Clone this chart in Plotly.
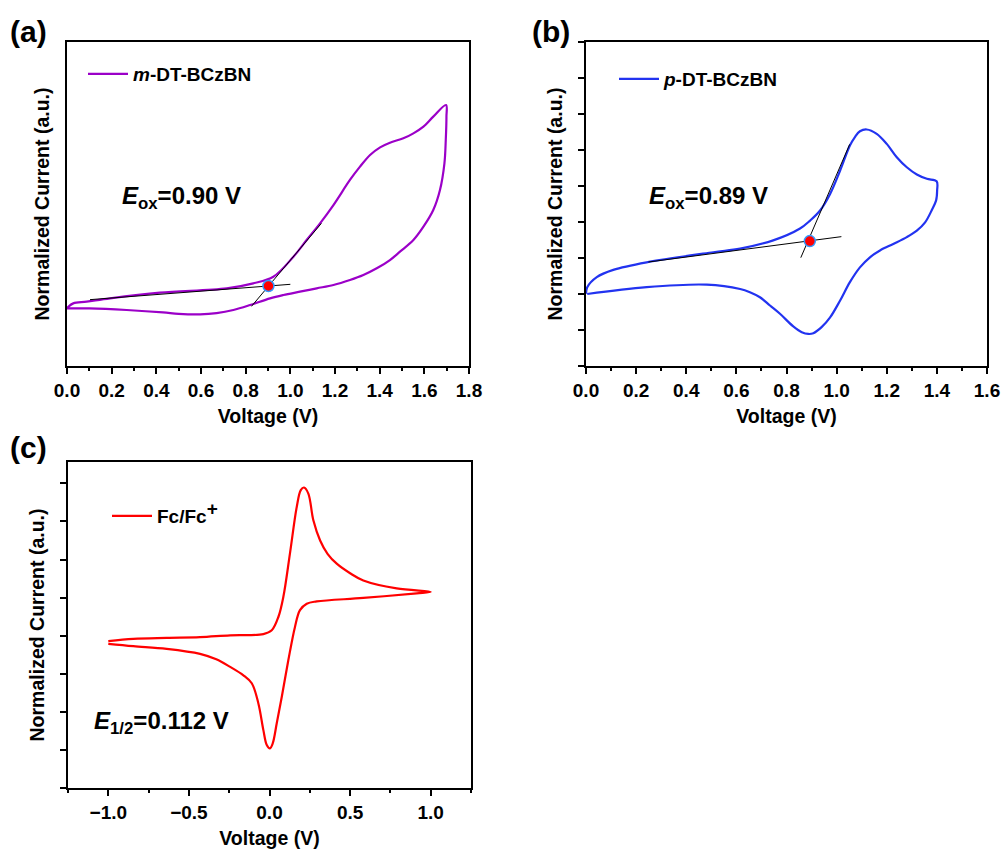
import plotly.graph_objects as go

# ---------------- data ----------------
# (a) m-DT-BCzBN : forward (upper) then reverse (lower) branch
a_v = [0.0, 0.006, 0.028, 0.088, 0.193, 0.416, 0.715, 0.834, 0.924, 1.014, 1.073, 1.133, 1.193,
       1.267, 1.312, 1.357, 1.402, 1.446, 1.506, 1.551, 1.596, 1.640, 1.697,
       1.699, 1.696, 1.690, 1.670, 1.640, 1.596, 1.551, 1.491, 1.446, 1.387, 1.327, 1.267,
       1.193, 1.118, 1.043, 0.969, 0.909, 0.820, 0.745, 0.670, 0.596, 0.500, 0.430, 0.267,
       0.100, 0.0]
a_i = [1.60, 1.647, 1.74, 1.787, 1.88, 2.037, 2.157, 2.296, 2.48, 3.037, 3.50, 3.963, 4.472,
       5.167, 5.537, 5.861, 6.074, 6.204, 6.324, 6.463, 6.648, 6.926, 7.25,
       6.926, 6.278, 5.63, 4.889, 4.333, 3.87, 3.50, 3.176, 2.944, 2.713, 2.528, 2.389,
       2.25, 2.157, 2.064, 1.972, 1.88, 1.694, 1.556, 1.47, 1.435, 1.45, 1.49, 1.556,
       1.60, 1.602]
a_base_v = [0.103, 1.0]
a_base_i = [1.843, 2.269]
a_slope_v = [0.826, 1.139]
a_slope_i = [1.657, 3.963]
a_onset_v = [0.902]
a_onset_i = [2.222]

# (b) p-DT-BCzBN
b_v = [0.0, 0.005, 0.043, 0.109, 0.242, 0.508, 0.615, 0.747, 0.854, 0.894, 0.934, 0.974, 1.014,
       1.053, 1.073, 1.093, 1.120, 1.160, 1.200, 1.240, 1.280, 1.320, 1.360, 1.399,
       1.401, 1.397, 1.379, 1.353, 1.320, 1.280, 1.226, 1.173, 1.133, 1.093, 1.053, 1.014,
       0.974, 0.940, 0.907, 0.887, 0.861, 0.827, 0.774, 0.734, 0.694, 0.654, 0.615, 0.482,
       0.242, 0.005]
b_i = [2.01, 2.19, 2.47, 2.67, 2.88, 3.16, 3.26, 3.49, 3.82, 4.04, 4.32, 4.78, 5.43,
       6.125, 6.36, 6.52, 6.57, 6.45, 6.17, 5.80, 5.52, 5.32, 5.20, 5.13,
       4.875, 4.60, 4.32, 3.99, 3.76, 3.58, 3.39, 3.21, 3.02, 2.74, 2.33, 1.82,
       1.35, 1.08, 0.91, 0.89, 0.94, 1.10, 1.45, 1.68, 1.91, 2.05, 2.14, 2.26,
       2.19, 2.00]
b_base_v = [0.249, 1.019]
b_base_i = [2.889, 3.593]
b_slope_v = [0.857, 1.052]
b_slope_i = [3.009, 6.157]
b_onset_v = [0.893]
b_onset_i = [3.47]

# (c) Fc/Fc+
c_v = [-1.0, -0.845, -0.638, -0.431, -0.244, -0.038, 0.014, 0.055, 0.086, 0.127, 0.169, 0.194,
       0.214, 0.241, 0.272, 0.314, 0.360, 0.417, 0.500, 0.582, 0.789, 1.0,
       0.913, 0.582, 0.293, 0.231, 0.189, 0.158, 0.117, 0.076, 0.045, 0.020, 0.003, -0.017,
       -0.038, -0.069, -0.110, -0.162, -0.244, -0.330, -0.431, -0.638, -0.845, -1.0]
c_i = [3.855, 3.916, 3.942, 3.960, 4.01, 4.04, 4.14, 4.49, 5.02, 6.16, 7.38, 7.82,
       7.89, 7.73, 7.03, 6.50, 6.15, 5.89, 5.64, 5.45, 5.24, 5.15,
       5.11, 4.99, 4.90, 4.84, 4.67, 4.23, 3.36, 2.39, 1.70, 1.17, 1.04, 1.13,
       1.52, 2.22, 2.75, 2.96, 3.18, 3.38, 3.523, 3.654, 3.724, 3.785]

FONT = "Liberation Sans, Arial, sans-serif"
W, H = 1003, 852


def dx(px0, px1):
    return [px0 / W, px1 / W]


def dy(top, bottom):
    return [1 - bottom / H, 1 - top / H]


fig = go.Figure()


def add_cv(v, i, color, name, xa, ya, lg):
    fig.add_trace(go.Scatter(x=v, y=i, mode="lines",
                             line=dict(color=color, width=2.2, shape="spline", smoothing=1.0),
                             name=name, xaxis=xa, yaxis=ya, legend=lg))


def add_line(v, i, xa, ya):
    fig.add_trace(go.Scatter(x=v, y=i, mode="lines", line=dict(color="black", width=1),
                             showlegend=False, xaxis=xa, yaxis=ya, hoverinfo="skip"))


def add_onset(v, i, xa, ya):
    fig.add_trace(go.Scatter(x=v, y=i, mode="markers",
                             marker=dict(color="red", size=11, line=dict(color="#3399FF", width=1.5)),
                             showlegend=False, xaxis=xa, yaxis=ya))


add_cv(a_v, a_i, "#9B00C8", "<i>m</i>-DT-BCzBN", "x", "y", "legend")
add_line(a_base_v, a_base_i, "x", "y")
add_line(a_slope_v, a_slope_i, "x", "y")
add_onset(a_onset_v, a_onset_i, "x", "y")

add_cv(b_v, b_i, "#2233F0", "<i>p</i>-DT-BCzBN", "x2", "y2", "legend2")
add_line(b_base_v, b_base_i, "x2", "y2")
add_line(b_slope_v, b_slope_i, "x2", "y2")
add_onset(b_onset_v, b_onset_i, "x2", "y2")

add_cv(c_v, c_i, "#FF0000", "Fc/Fc<sup><span style='font-size:19px'>+</span></sup>", "x3", "y3", "legend3")

tickfont = dict(family=FONT, size=19, color="black", weight="bold")
titlefont = dict(family=FONT, size=19.5, color="black", weight="bold")

common_x = dict(showline=True, linecolor="black", linewidth=2, mirror=True, ticks="outside",
                ticklen=6, tickwidth=1.5, tickcolor="black", tickfont=tickfont, showgrid=False,
                zeroline=False, automargin=False,
                title=dict(text="Voltage (V)", font=titlefont, standoff=10))
common_y = dict(showline=True, linecolor="black", linewidth=2, mirror=True, showgrid=False,
                zeroline=False, showticklabels=False, automargin=False,
                title=dict(text="Normalized Current (a.u.)", font=titlefont, standoff=10))

leg_font = dict(family=FONT, size=19, color="black", weight="bold")
fig.update_layout(
    width=W, height=H, margin=dict(l=0, r=0, t=0, b=0),
    paper_bgcolor="white", plot_bgcolor="white", template="none",
    font=dict(family=FONT, color="black"),
    xaxis=dict(common_x, domain=dx(67, 469), anchor="y", range=[0, 1.8], dtick=0.2,
               tickformat=".1f", minor=dict(ticks="outside", ticklen=3, dtick=0.1, tickcolor="black")),
    yaxis=dict(common_y, domain=dy(42, 366), anchor="x", range=[0, 9], ticks=""),
    xaxis2=dict(common_x, domain=dx(586, 987), anchor="y2", range=[0, 1.6], dtick=0.2,
                tickformat=".1f", minor=dict(ticks="outside", ticklen=3, dtick=0.1, tickcolor="black")),
    yaxis2=dict(common_y, domain=dy(42, 366), anchor="x2", range=[0, 9], ticks="outside",
                ticklen=6, tickwidth=1.5, tickcolor="black", dtick=1),
    xaxis3=dict(common_x, domain=dx(68, 471), anchor="y3", range=[-1.25, 1.25], dtick=0.5,
                tickformat=".1f", minor=dict(ticks="outside", ticklen=3, dtick=0.25, tickcolor="black")),
    yaxis3=dict(common_y, domain=dy(462, 788), anchor="x3", range=[0, 8.56], ticks="outside",
                ticklen=6, tickwidth=1.5, tickcolor="black", dtick=1),
    legend=dict(x=83 / W, y=1 - 55 / H, xanchor="left", yanchor="top", bgcolor="rgba(0,0,0,0)",
                font=leg_font, itemwidth=40),
    legend2=dict(x=614 / W, y=1 - 60 / H, xanchor="left", yanchor="top", bgcolor="rgba(0,0,0,0)",
                 font=leg_font, itemwidth=40),
    legend3=dict(x=107 / W, y=1 - 497 / H, xanchor="left", yanchor="top", bgcolor="rgba(0,0,0,0)",
                 font=leg_font, itemwidth=40),
)

ann_font = dict(family=FONT, size=24, color="black", weight="bold")
panel_font = dict(family=FONT, size=30, color="black", weight="bold")
fig.add_annotation(x=0.237, y=4.69, xref="x", yref="y", text="<i>E</i><sub>ox</sub>=0.90 V",
                   showarrow=False, font=ann_font, xanchor="left", yanchor="middle")
fig.add_annotation(x=0.243, y=4.68, xref="x2", yref="y2", text="<i>E</i><sub>ox</sub>=0.89 V",
                   showarrow=False, font=ann_font, xanchor="left", yanchor="middle")
fig.add_annotation(x=-1.10, y=1.73, xref="x3", yref="y3", text="<i>E</i><sub>1/2</sub>=0.112 V",
                   showarrow=False, font=ann_font, xanchor="left", yanchor="middle")
fig.add_annotation(x=8 / W, y=1 - 32 / H, xref="paper", yref="paper", text="(a)",
                   showarrow=False, font=panel_font, xanchor="left", yanchor="middle")
fig.add_annotation(x=530 / W, y=1 - 32 / H, xref="paper", yref="paper", text="(b)",
                   showarrow=False, font=panel_font, xanchor="left", yanchor="middle")
fig.add_annotation(x=8 / W, y=1 - 447 / H, xref="paper", yref="paper", text="(c)",
                   showarrow=False, font=panel_font, xanchor="left", yanchor="middle")

fig.write_html("out.html")
